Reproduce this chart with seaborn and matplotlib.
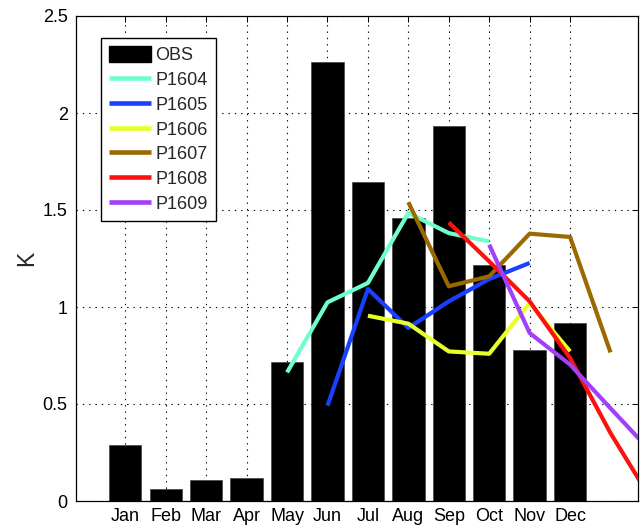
import numpy as np
import pandas as pd
import matplotlib
matplotlib.use("Agg")
import matplotlib.pyplot as plt
from matplotlib.patches import Patch
from matplotlib.lines import Line2D
from matplotlib.ticker import FuncFormatter
import seaborn as sns

# ---- data ----
months = ['Jan', 'Feb', 'Mar', 'Apr', 'May', 'Jun', 'Jul', 'Aug', 'Sep', 'Oct', 'Nov', 'Dec']
obs = [0.287, 0.064, 0.108, 0.117, 0.718, 2.261, 1.643, 1.457, 1.935, 1.216, 0.780, 0.916]

runs = ['P1604', 'P1605', 'P1606', 'P1607', 'P1608', 'P1609']
# month index (Jan = 0); values beyond Dec (12, 13) fall into next year
p1604_x = [4, 5, 6, 7, 8, 9]
p1604_y = [0.663, 1.024, 1.124, 1.485, 1.381, 1.338]
p1605_x = [5, 6, 7, 8, 9, 10]
p1605_y = [0.491, 1.093, 0.892, 1.029, 1.144, 1.227]
p1606_x = [6, 7, 8, 9, 10, 11]
p1606_y = [0.955, 0.914, 0.771, 0.759, 1.021, 0.771]
p1607_x = [7, 8, 9, 10, 11, 12]
p1607_y = [1.540, 1.107, 1.158, 1.378, 1.361, 0.766]
p1608_x = [8, 9, 10, 11, 12, 13]
p1608_y = [1.436, 1.235, 1.029, 0.737, 0.350, 0.010]
p1609_x = [9, 10, 11, 12, 13]
p1609_y = [1.321, 0.866, 0.703, 0.478, 0.255]

colors = ['#70FFCC', '#1A40FF', '#E8FF2A', '#9A6A00', '#FF1010', '#A040F8']

# ---- build frames ----
bar_df = pd.DataFrame({'month': np.arange(len(months)), 'value': obs})
parts = []
for name, xs, ys in zip(runs,
                        [p1604_x, p1605_x, p1606_x, p1607_x, p1608_x, p1609_x],
                        [p1604_y, p1605_y, p1606_y, p1607_y, p1608_y, p1609_y]):
    parts.append(pd.DataFrame({'month': xs, 'value': ys, 'run': name}))
line_df = pd.concat(parts, ignore_index=True)

# ---- style ----
sns.set_style("white")
plt.rcParams['font.family'] = ['Liberation Sans', 'DejaVu Sans']

fig = plt.figure(figsize=(6.4, 5.28), dpi=100)
ax = fig.add_axes([76 / 640, 1 - 501 / 528, (638 - 76) / 640, (501 - 16) / 528])

sns.barplot(data=bar_df, x='month', y='value', native_scale=True, color='black',
            width=0.8, saturation=1, edgecolor='#444444', linewidth=0.5, ax=ax, zorder=2)

sns.lineplot(data=line_df, x='month', y='value', hue='run', hue_order=runs,
             palette=colors, linewidth=3, legend=False, ax=ax, zorder=3,
             solid_capstyle='butt')

ax.set_xlim(-1.22, 12.68)
ax.set_ylim(0, 2.5)
ax.set_xticks(np.arange(len(months)))
ax.set_xticklabels(months)
ax.set_yticks([0, 0.5, 1, 1.5, 2, 2.5])
ax.yaxis.set_major_formatter(FuncFormatter(lambda v, p: f"{v:g}"))
ax.set_xlabel('')
ax.set_ylabel('K', fontsize=16.5)
ax.yaxis.set_label_coords(-0.068, 0.5)

ax.set_axisbelow(True)
ax.grid(True, color='black', linewidth=0.8, linestyle=(0, (1.2, 4.5)))

for s in ax.spines.values():
    s.set_visible(True)
    s.set_color('black')
    s.set_linewidth(0.9)

ax.tick_params(axis='both', direction='in', length=4, width=0.7, color='black',
               top=True, right=True, labelsize=13, labelcolor='black')
ax.tick_params(axis='x', pad=5)
ax.tick_params(axis='y', pad=6)

handles = [Patch(facecolor='black', edgecolor='black')] + \
          [Line2D([0], [0], color=c, linewidth=3.3, solid_capstyle='butt') for c in colors]
labels = ['OBS'] + runs
leg = ax.legend(handles, labels, loc='upper left', bbox_to_anchor=(0.0445, 0.9546),
                borderaxespad=0, frameon=True, fancybox=False, edgecolor='black',
                framealpha=1, fontsize=13, handlelength=2.3, handletextpad=0.25,
                labelspacing=0.36, borderpad=0.45, handleheight=1.0)
leg.get_frame().set_linewidth(1.0)
leg.set_zorder(5)

fig.savefig('out.png', dpi=100)
